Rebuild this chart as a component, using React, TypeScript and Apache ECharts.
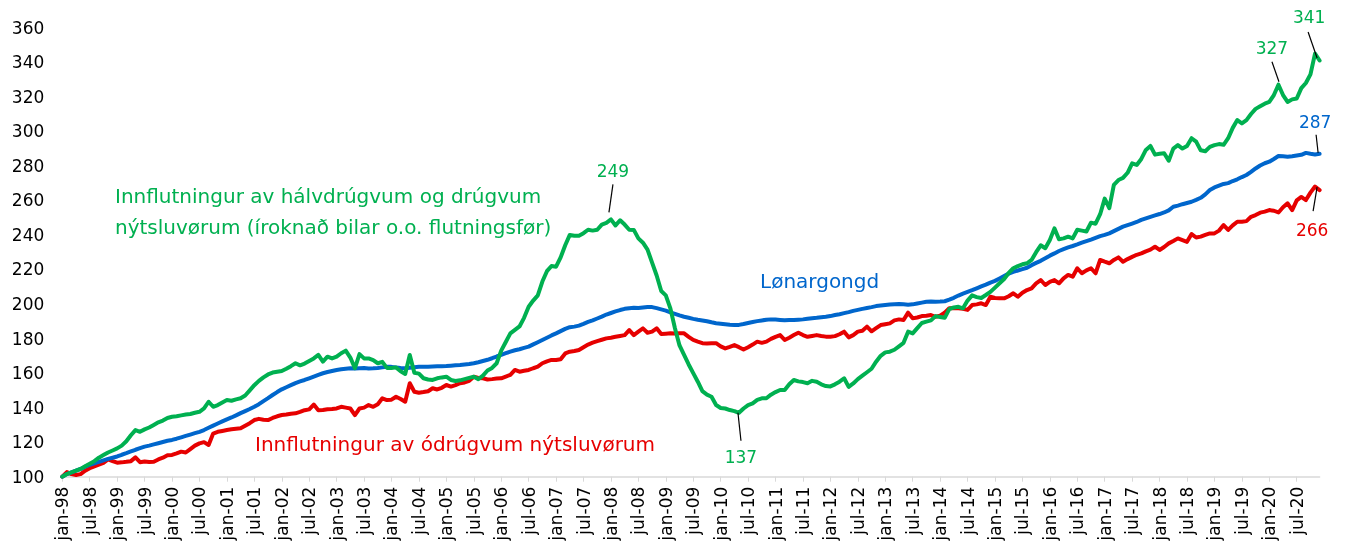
import React, { useEffect, useRef } from 'react';
import * as echarts from 'echarts';

const MONTHS = ['jan', 'feb', 'mar', 'apr', 'mai', 'jun', 'jul', 'aug', 'sep', 'okt', 'nov', 'des'];
const YEARS = [1998, 1999, 2000, 2001, 2002, 2003, 2004, 2005, 2006, 2007, 2008, 2009, 2010, 2011, 2012, 2013, 2014, 2015, 2016, 2017, 2018, 2019, 2020];
const CATEGORIES = YEARS.flatMap((y) => MONTHS.map((m) => `${m}-${String(y).slice(2)}`));

const Y_MIN = 100;
const Y_MAX = 360;
const Y_STEP = 20;

const GREEN_NAME_1 = 'Innflutningur av hálvdrúgvum og drúgvum';
const GREEN_NAME_2 = 'nýtsluvørum (íroknað bilar o.o. flutningsfør)';
const BLUE_NAME = 'Lønargongd';
const RED_NAME = 'Innflutningur av ódrúgvum nýtsluvørum';

// Innflutningur av hálvdrúgvum og drúgvum nýtsluvørum
const GREEN = [
  100, 101.5, 102.5, 103.5, 104.5, 106, 107.5, 109, 111, 112.5, 114, 115.2,
  116.4, 118, 120.5, 124, 127, 126, 127.4, 128.5, 130, 131.5, 132.5, 134,
  134.7, 135, 135.5, 136, 136.3, 137, 137.6, 139.5, 143.4, 140.5, 141.5, 143,
  144.4, 144, 144.8, 145.4, 147, 150, 153, 155.5, 157.5, 159.2, 160.3, 160.8,
  161.2, 162.5, 164, 165.7, 164.5, 165.5, 167, 168.5, 170.5, 166.6, 169.5, 168.5,
  169.5, 171.5, 173, 169, 162.8, 171, 168.5, 168.5, 167.5, 165.7, 166.5, 163,
  163, 163.3, 161, 159.5, 170.5, 160.2, 159.7, 157, 156.3, 156, 157, 157.5,
  157.9, 156, 155.4, 155.8, 156.5, 157.2, 157.9, 156.5, 158.5, 161.5, 163, 165.7,
  173, 178, 183, 185, 187, 192, 198.4, 202, 205, 213, 219, 222,
  221.6, 227, 234, 240, 239.5, 239.5, 241, 243, 242.5, 243, 246, 247,
  249, 245.5, 248.5, 246, 243, 242.9, 238, 235.5, 231.5, 224, 216.5, 207.5,
  205, 197.5, 186, 176, 170.5, 165, 160, 155, 149.5, 147.5, 146.3, 141.5,
  139.8, 139.5, 138.6, 138, 137, 139.5, 141.5, 142.5, 144.5, 145.4, 145.4, 147.5,
  149, 150.2, 150.2, 153.5, 156, 155.2, 154.8, 154.1, 155.5, 155, 153.5, 152.5,
  152.3, 153.5, 155, 157, 152, 154, 156.5, 158.5, 160.5, 162.5, 166.6, 170,
  172, 172.4, 173.5, 175.5, 177.5, 184, 183, 186, 189, 189.8, 190.5, 193,
  192.5, 192, 197, 198, 198.4, 197.5, 202, 205, 204, 203.5, 205.2, 207,
  209.5, 212, 214.5, 218, 220.7, 222, 223, 223.6, 225.5, 230, 234, 232.3,
  237.1, 243.8, 237.5, 238, 239, 238, 243, 242.5, 242, 247.1, 246.5, 252,
  261, 255.5, 269, 271.8, 273, 276, 281.5, 280.5, 284, 289.2, 291.5, 286.5,
  287, 287.3, 283, 290, 292, 290, 291.5, 296, 294, 289, 288.5, 291,
  292, 292.6, 292.2, 296, 302, 306.5, 304.6, 306.5, 310, 313, 314.5, 316,
  317, 321, 327, 321, 317, 318.5, 319, 325, 328, 333, 345, 341,
];

// Lønargongd
const BLUE = [
  100, 101.5, 102.5, 103.5, 104.5, 105.8, 106.8, 107.7, 108.6, 109.5, 110.3, 111,
  111.7, 112.7, 113.6, 114.6, 115.6, 116.5, 117.4, 118, 118.7, 119.4, 120.1, 120.8,
  121.3, 122, 122.8, 123.6, 124.4, 125.2, 126, 127, 128.3, 129.6, 130.8, 132,
  133.2, 134.3, 135.5, 136.8, 138, 139.2, 140.5, 142, 143.8, 145.5, 147.3, 149,
  150.6, 151.8, 153, 154.2, 155.2, 156, 157, 158, 159, 159.9, 160.6, 161.2,
  161.8, 162.2, 162.5, 162.8, 162.6, 162.8, 162.9, 162.7, 162.8, 163, 163.3, 163.6,
  163.6, 163.3, 163, 162.8, 163.1, 163.4, 163.7, 163.6, 163.7, 163.8, 163.9, 164,
  164.1, 164.3, 164.5, 164.7, 165, 165.3, 165.7, 166.3, 167, 167.7, 168.6, 169.6,
  170.5, 171.5, 172.4, 173.2, 173.8, 174.6, 175.3, 176.6, 177.9, 179.2, 180.5, 181.8,
  183, 184.3, 185.6, 186.6, 186.9, 187.5, 188.5, 189.6, 190.5, 191.6, 192.7, 193.9,
  194.8, 195.7, 196.5, 197.2, 197.6, 197.8, 197.7, 198, 198.3, 198.2, 197.6, 196.9,
  196.2, 195.2, 194.3, 193.4, 192.6, 192, 191.4, 190.9, 190.5, 190, 189.4, 188.9,
  188.6, 188.3, 188, 187.8, 187.9, 188.4, 189, 189.6, 190.1, 190.5, 190.9, 191.1,
  191, 190.8, 190.6, 190.7, 190.7, 190.9, 191.1, 191.5, 191.8, 192, 192.3, 192.6,
  193, 193.6, 194.1, 194.7, 195.3, 196, 196.6, 197.2, 197.7, 198.2, 198.8, 199.1,
  199.4, 199.7, 199.9, 200, 199.8, 199.6, 199.8, 200.3, 200.8, 201.3, 201.4, 201.3,
  201.4, 201.6, 202.5, 203.6, 204.9, 206, 207, 208, 209.1, 210.2, 211.2, 212.4,
  213.4, 214.8, 216.2, 217.6, 218.6, 219.4, 220.2, 221, 222.5, 223.8, 225, 226.5,
  228, 229.3, 230.7, 231.8, 232.8, 233.6, 234.5, 235.5, 236.4, 237.3, 238.3, 239.3,
  240, 240.9, 242.2, 243.5, 244.8, 245.7, 246.6, 247.5, 248.7, 249.6, 250.5, 251.3,
  252.1, 253, 254.2, 256.3, 257, 257.8, 258.5, 259.2, 260.3, 261.5, 263.5, 266,
  267.5, 268.5, 269.5, 270, 271.2, 272.2, 273.5, 274.7, 276.5, 278.5, 280.2, 281.5,
  282.4, 284, 285.7, 285.5, 285.3, 285.6, 286, 286.4, 287.5, 287, 286.6, 287,
];

// Innflutningur av ódrúgvum nýtsluvørum
const RED = [
  100, 102.7, 101.5, 101, 101.5, 103.5, 104.9, 106, 107, 108, 110, 109,
  108.1, 108.3, 108.6, 109, 111.2, 108.4, 108.8, 108.5, 108.7, 110, 111, 112.4,
  112.6, 113.5, 114.5, 114, 116, 118, 119.3, 120, 118.4, 125, 126, 126.5,
  127, 127.5, 127.8, 128, 129.5, 131, 132.8, 133.5, 133, 132.8, 134, 135,
  135.7, 136, 136.5, 136.7, 137.5, 138.5, 139, 141.8, 138.5, 138.6, 139, 139.2,
  139.5, 140.5, 140, 139.5, 135.7, 139.5, 140, 141.5, 140.5, 142, 145.4, 144.4,
  144.6, 146.3, 145, 143.4, 154.1, 149.2, 148.6, 149, 149.5, 151.2, 150.5, 151.5,
  153.1, 152.2, 153, 154.1, 154.6, 155.5, 157.9, 157.2, 157, 156.3, 156.5, 156.8,
  157, 158, 159, 161.8, 160.8, 161.3, 161.8, 162.8, 163.7, 165.7, 166.8, 167.6,
  167.6, 168, 171.4, 172.4, 172.8, 173.4, 175, 176.5, 177.6, 178.5, 179.3, 180.1,
  180.5, 181, 181.5, 182, 184.9, 182, 184, 185.9, 183.4, 184, 185.9, 182.6,
  182.8, 183, 182.9, 183, 183, 181, 179.2, 178.2, 177.3, 177.2, 177.3, 177.3,
  175.5, 174.3, 175.2, 176.2, 175, 173.6, 175, 176.5, 178.2, 177.5, 178.2, 179.8,
  181, 182, 179.2, 180.5, 182, 183.4, 182, 181, 181.5, 182, 181.5, 181.1,
  181.1, 181.4, 182.5, 184, 180.7, 182, 184, 184.5, 186.9, 184.2, 186, 187.8,
  188.3, 188.8, 190.5, 191.1, 190.7, 195, 191.7, 192.2, 193, 193.2, 193.6, 192.6,
  193.2, 195, 197.5, 197.5, 197.5, 197.2, 196.6, 199.4, 199.8, 200.4, 199.4, 204.2,
  203.5, 203.3, 203.3, 204.5, 206.2, 204.2, 206.5, 208.1, 209.1, 212, 213.9, 211,
  212.8, 213.9, 212, 214.9, 216.8, 215.8, 220.7, 217.8, 219.5, 220.7, 217.8, 225.5,
  224.5, 223.6, 225.5, 227, 224.5, 226, 227.3, 228.5, 229.3, 230.5, 231.5, 233.2,
  231.3, 233, 235.1, 236.5, 238, 237, 236, 240.5, 238.5, 239, 240, 240.9,
  240.9, 242.5, 245.7, 242.9, 245.5, 247.6, 247.6, 248, 250.5, 251.5, 252.9, 253.5,
  254.4, 254, 253, 256, 258.3, 254.4, 260, 262, 260.2, 264.5, 268, 266,
];

// annotated points: [series key, category index, label]
const ANNOTATED = [
  ['green', 120, '249'],
  ['green', 148, '137'],
  ['green', 266, '327'],
  ['green', 275, '341'],
  ['blue', 275, '287'],
  ['red', 275, '266'],
] as const;

const FONT = '"DejaVu Sans", Verdana, sans-serif';
const C_GREEN = '#00B050';
const C_BLUE = '#0066CC';
const C_RED = '#E60000';

// leader offsets (px) relative to the annotated point: [x1, y1, x2, y2, textX, textY]
const OFFSETS: Record<string, number[]> = {
  '249': [-2, -7, 2, -35, 2, -48],
  '137': [-1, 0, 2, 28, 2, 44],
  '327': [0.5, -3, -6.5, -23, -6.5, -37],
  '341': [-2.5, -2.5, -11.5, -28.5, -10.5, -43.5],
  '287': [-1.5, -1, -3.5, -19, -4.5, -32],
  '266': [-2.5, -3, -6.5, 21, -7.5, 40],
};

export default function App() {
  const ref = useRef<HTMLDivElement>(null);
  useEffect(() => {
    if (!ref.current) return;
    const chart = echarts.init(ref.current, null, { renderer: 'svg' });
    const lineSeries = (name: string, data: number[], color: string) => ({
      name,
      type: 'line',
      data,
      showSymbol: false,
      symbol: 'none',
      smooth: false,
      lineStyle: { width: 4, color, cap: 'round', join: 'round' },
      itemStyle: { color },
      z: 2,
    });
    chart.setOption({
      animation: false,
      textStyle: { fontFamily: FONT },
      grid: { left: 62.3, right: 27.4, top: 27.7, bottom: 75.3, containLabel: false },
      xAxis: {
        type: 'category',
        data: CATEGORIES,
        boundaryGap: false,
        axisLine: { show: true, lineStyle: { color: '#D9D9D9', width: 1.5 } },
        axisTick: { show: true, interval: 5, length: 5, lineStyle: { color: '#D9D9D9', width: 1 } },
        axisLabel: { interval: 5, rotate: 90, fontSize: 17, color: '#000', fontFamily: FONT, margin: 10 },
        splitLine: { show: false },
      },
      yAxis: {
        type: 'value',
        min: Y_MIN,
        max: Y_MAX,
        interval: Y_STEP,
        axisLine: { show: false },
        axisTick: { show: false },
        splitLine: { show: false },
        axisLabel: { fontSize: 17, color: '#000', fontFamily: FONT, margin: 18 },
      },
      series: [
        lineSeries(RED_NAME, RED, C_RED),
        lineSeries(BLUE_NAME, BLUE, C_BLUE),
        lineSeries(GREEN_NAME_1 + ' ' + GREEN_NAME_2, GREEN, C_GREEN),
      ],
    });

    const seriesData: Record<string, number[]> = { green: GREEN, blue: BLUE, red: RED };
    const seriesColor: Record<string, string> = { green: C_GREEN, blue: C_BLUE, red: C_RED };
    const graphics: any[] = [];
    ANNOTATED.forEach(([key, idx, label]) => {
      const p = chart.convertToPixel({ xAxisIndex: 0, yAxisIndex: 0 }, [idx, seriesData[key][idx]]) as number[];
      const o = OFFSETS[label];
      graphics.push({
        type: 'line',
        z: 100,
        shape: { x1: p[0] + o[0], y1: p[1] + o[1], x2: p[0] + o[2], y2: p[1] + o[3] },
        style: { stroke: '#000', lineWidth: 1.2 },
      });
      graphics.push({
        type: 'text',
        z: 100,
        x: p[0] + o[4],
        y: p[1] + o[5],
        style: {
          text: label,
          fill: seriesColor[key],
          font: `17px ${FONT}`,
          align: 'center',
          verticalAlign: 'middle',
          textAlign: 'center',
          textVerticalAlign: 'middle',
        },
      });
    });
    const nameText = (text: string, x: number, y: number, color: string) => ({
      type: 'text',
      z: 100,
      x,
      y,
      style: {
        text,
        fill: color,
        font: `20px ${FONT}`,
        align: 'left',
        verticalAlign: 'middle',
        textAlign: 'left',
        textVerticalAlign: 'middle',
      },
    });
    graphics.push(nameText(GREEN_NAME_1, 115, 196, C_GREEN));
    graphics.push(nameText(GREEN_NAME_2, 115, 227, C_GREEN));
    graphics.push(nameText(BLUE_NAME, 760, 281, C_BLUE));
    graphics.push(nameText(RED_NAME, 255, 444, C_RED));
    chart.setOption({ graphic: graphics });

    return () => chart.dispose();
  }, []);
  return <div ref={ref} style={{ position: 'fixed', left: 0, top: 0, width: 1347, height: 552 }} />;
}
